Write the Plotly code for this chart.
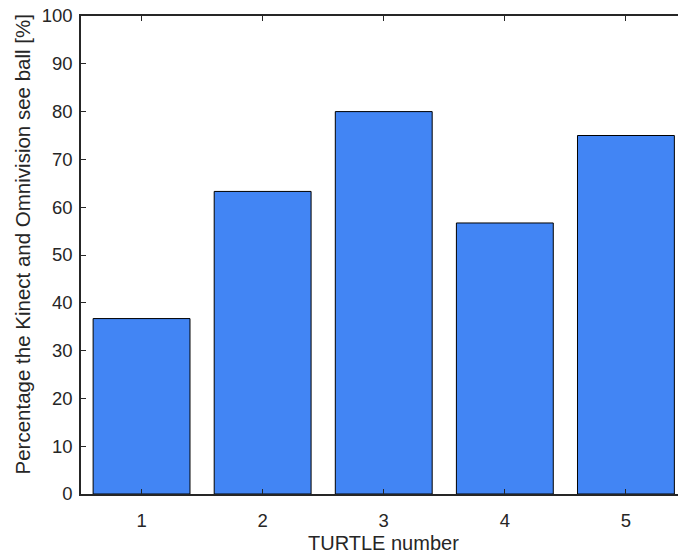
import plotly.graph_objects as go

turtles = [1, 2, 3, 4, 5]
percent_seen = [36.7, 63.3, 80.0, 56.7, 75.0]
y_ticks = [0, 10, 20, 30, 40, 50, 60, 70, 80, 90, 100]

axis_color = "#262626"
font_family = "Liberation Sans, Arial, Helvetica, sans-serif"

fig = go.Figure()
fig.add_trace(go.Bar(
    x=turtles,
    y=percent_seen,
    width=0.8,
    marker=dict(color="#4285F4", line=dict(color="#000000", width=1)),
))

fig.update_layout(
    width=678,
    height=556,
    margin=dict(l=80.5, r=0, t=16, b=61.5),
    paper_bgcolor="white",
    plot_bgcolor="white",
    showlegend=False,
    font=dict(family=font_family, size=18, color=axis_color),
    bargap=0.2,
)

# x-axis title centred on the full (clipped) axis span [0.5, 5.5]
fig.add_annotation(
    text="TURTLE number",
    x=3, xref="x",
    y=0, yref="paper",
    yanchor="middle", xanchor="center",
    yshift=-48.5,
    showarrow=False,
    font=dict(size=20, family=font_family, color=axis_color),
)

# y-axis title
fig.add_annotation(
    text="Percentage the Kinect and Omnivision see ball [%]",
    textangle=-90,
    x=0, xref="paper",
    y=0.521, yref="paper",
    xanchor="center", yanchor="middle",
    xshift=-58.5,
    showarrow=False,
    font=dict(size=20.5, family=font_family, color=axis_color),
)

fig.update_xaxes(
    range=[0.5, 5.43],
    tickmode="array",
    tickvals=turtles,
    ticktext=[str(t) for t in turtles],
    ticks="inside",
    ticklen=5,
    tickwidth=1,
    tickcolor=axis_color,
    showline=True,
    linecolor=axis_color,
    linewidth=1.5,
    mirror="ticks",
    showgrid=False,
    zeroline=False,
    ticklabelstandoff=9,
    tickfont=dict(size=18.5),
)

fig.update_yaxes(
    range=[0, 100],
    tickmode="array",
    tickvals=y_ticks,
    ticks="inside",
    ticklen=5,
    tickwidth=1,
    tickcolor=axis_color,
    showline=True,
    linecolor=axis_color,
    linewidth=1.5,
    mirror=False,
    showgrid=False,
    zeroline=False,
    ticklabelstandoff=3,
    tickfont=dict(size=18.5),
)

fig.write_html("out.html")
